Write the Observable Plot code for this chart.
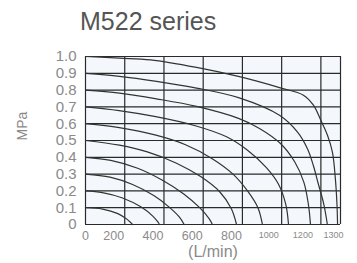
<!DOCTYPE html>
<html>
<head>
<meta charset="utf-8">
<script src="https://cdn.jsdelivr.net/npm/d3@7"></script>
<script src="https://cdn.jsdelivr.net/npm/@observablehq/plot@0.6"></script>
<style>
  html, body { margin: 0; padding: 0; background: #fff; }
  #wrap { position: relative; width: 357px; height: 263px; font-family: "Liberation Sans", Arial, sans-serif; }
  #title { position: absolute; left: 80px; top: 6px; font-size: 25px; color: #555; line-height: 30px; }
  svg { display: block; }
</style>
</head>
<body>
<div id="wrap"><div id="title">M522 series</div></div>
<script>
// Tick values / labels
const xTicks = [0, 200, 400, 600, 800, 1000, 1200, 1300];
const yTicks = [0, 0.1, 0.2, 0.3, 0.4, 0.5, 0.6, 0.7, 0.8, 0.9, 1.0];
const setPressures = [0.1, 0.2, 0.3, 0.4, 0.5, 0.6, 0.7, 0.8, 0.9, 1.0];

// Curves: [flow L/min, pressure MPa]
const curve01 = [[0,0.1],[87,0.092],[165,0.065],[211,0.032],[232,0.01],[240,0]];
const curve02 = [[0,0.2],[86,0.19],[189,0.158],[282,0.105],[343,0.05],[369,0.015],[377,0]];
const curve03 = [[0,0.3],[125,0.282],[240,0.238],[348,0.172],[425,0.105],[478,0.045],[503,0]];
const curve04 = [[0,0.4],[129,0.382],[266,0.335],[390,0.265],[501,0.182],[582,0.1],[630,0.035],[647,0]];
const curve05 = [[0,0.5],[173,0.472],[315,0.432],[464,0.365],[587,0.285],[684,0.195],[743,0.095],[770,0]];
const curve06 = [[0,0.6],[172,0.577],[359,0.532],[510,0.475],[646,0.392],[752,0.3],[826,0.2],[879,0.1],[902,0]];
const curve07 = [[0,0.7],[171,0.678],[358,0.642],[560,0.588],[719,0.522],[826,0.442],[921,0.34],[984,0.24],[1021,0.12],[1035,0]];
const curve08 = [[0,0.8],[173,0.782],[362,0.748],[566,0.703],[780,0.632],[887,0.572],[994,0.482],[1067,0.372],[1113,0.252],[1136,0.122],[1147,0]];
const curve09 = [[0,0.9],[173,0.882],[362,0.852],[566,0.812],[780,0.755],[989,0.65],[1081,0.55],[1132,0.45],[1162,0.35],[1185,0.25],[1215,0.12],[1233,0]];
const curve10 = [[0,1.0],[173,0.99],[331,0.98],[566,0.935],[785,0.88],[989,0.815],[1111,0.77],[1162,0.71],[1198,0.625],[1234,0.53],[1259,0.43],[1274,0.27],[1282,0.12],[1285,0]];

const curves = [curve01, curve02, curve03, curve04, curve05, curve06, curve07, curve08, curve09, curve10];
const rows = curves.flatMap((c, i) => c.map(([q, p]) => ({q, p, set: setPressures[i]})));

const labelFill = "#8a8a8a";
// horizontal nudges of the x tick labels, as in the original artwork
const labelNudge = t => t === 0 ? 0 : t === 1000 ? -13 : t === 1200 ? -18 : t === 1300 ? -7 : -11;

const chart = Plot.plot({
  width: 357,
  height: 263,
  marginTop: 56,
  marginBottom: 39,
  marginLeft: 85,
  marginRight: 17,
  style: {fontFamily: "Liberation Sans, Arial, sans-serif", background: "transparent"},
  x: {domain: [0, 1300], axis: null},
  y: {domain: [0, 1], axis: null},
  marks: [
    Plot.frame({fill: "#f4f8fc", stroke: "none"}),
    Plot.ruleX(xTicks, {stroke: "#2a2a2a", strokeWidth: 1.2}),
    Plot.ruleY(yTicks, {stroke: "#2a2a2a", strokeWidth: 1.2}),
    Plot.line(rows, {x: "q", y: "p", z: "set", curve: "catmull-rom", stroke: "#333", strokeWidth: 1.2}),
    Plot.text(yTicks, {x: 0, y: d => d, text: d => d === 0 ? "0" : d.toFixed(1), textAnchor: "end", dx: -9, fontSize: 15, fill: labelFill}),
    ...xTicks.map(t => Plot.text([t], {x: d => d, y: 0, text: d => String(d), dy: 11, dx: labelNudge(t), fontSize: t >= 1000 ? 9 : 12.5, fill: labelFill})),
    Plot.text(["(L/min)"], {frameAnchor: "bottom", dy: 32, fontSize: 16, fill: labelFill}),
    Plot.text(["MPa"], {frameAnchor: "left", rotate: -90, dx: -63, dy: 0, fontSize: 14, fill: labelFill})
  ]
});
document.getElementById("wrap").prepend(chart);
</script>
</body>
</html>
